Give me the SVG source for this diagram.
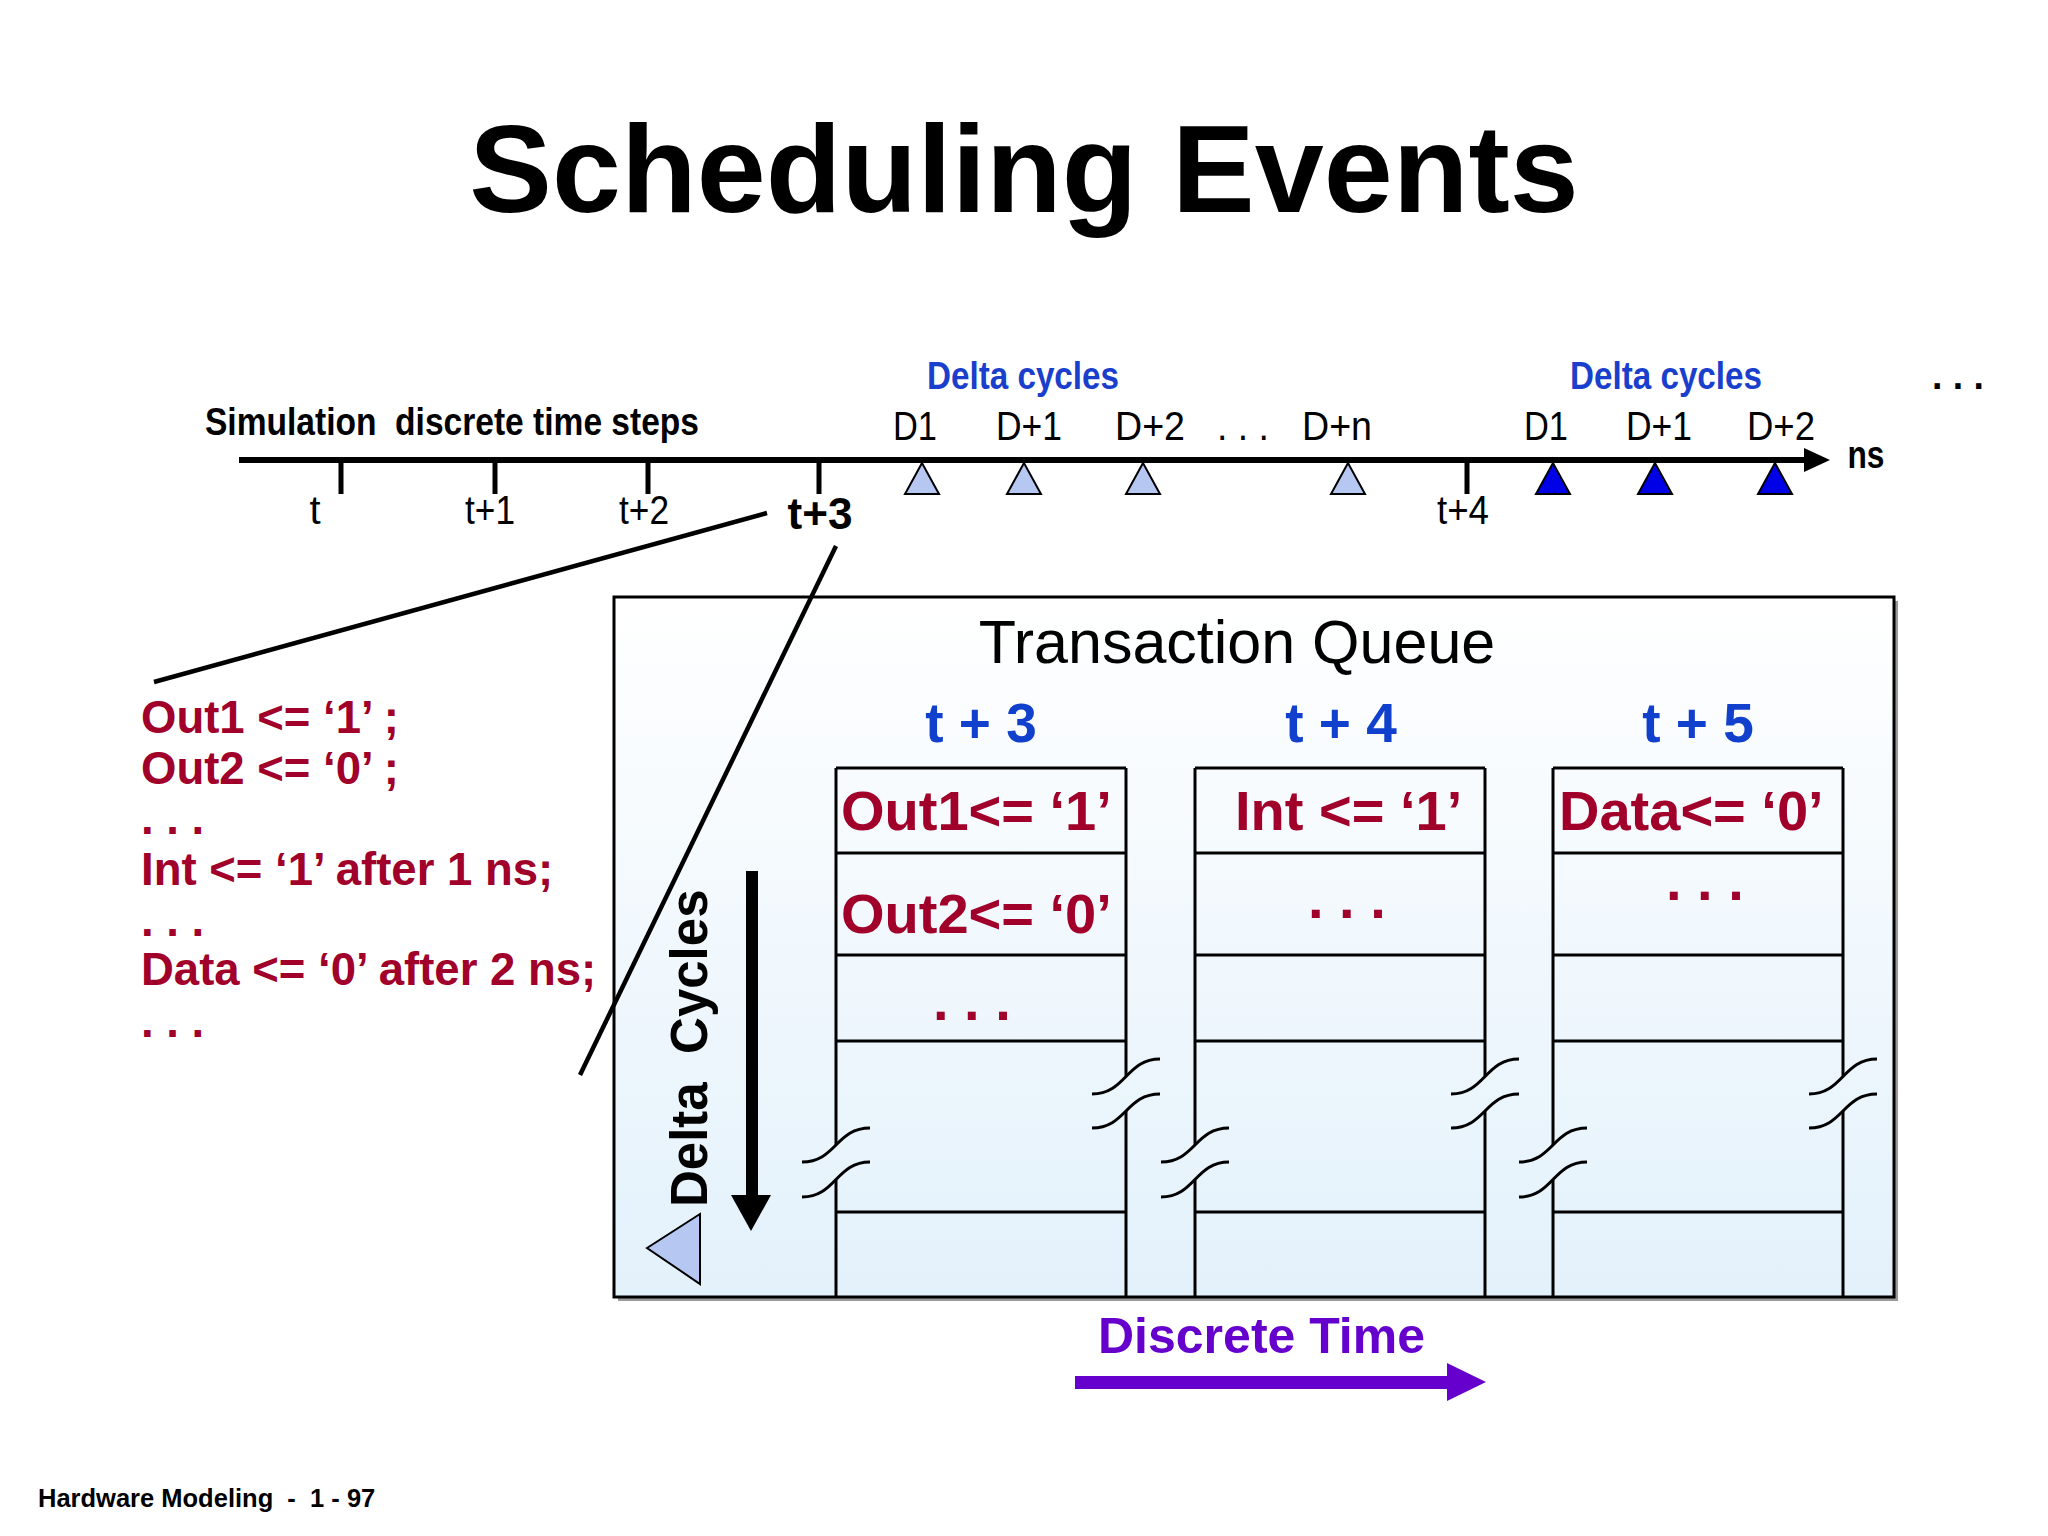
<svg xmlns="http://www.w3.org/2000/svg" width="2048" height="1536" viewBox="0 0 2048 1536">
<defs>
<linearGradient id="boxfill" x1="0" y1="0" x2="0" y2="1">
<stop offset="0" stop-color="#ffffff"/>
<stop offset="1" stop-color="#e3f1fb"/>
</linearGradient>
<style>
.title{font-family:"Liberation Sans",Arial,sans-serif;font-weight:bold;font-size:124px;fill:#000}
.nar{font-family:"Liberation Sans Narrow","Liberation Sans",Arial,sans-serif;font-size:40px;fill:#000}
.narb{font-family:"Liberation Sans Narrow","Liberation Sans",Arial,sans-serif;font-size:38px;font-weight:bold;fill:#000}
.blue{fill:#1a3fcc}
.code{font-family:"Liberation Sans",Arial,sans-serif;font-weight:bold;font-size:45.5px;fill:#a0002a}
.cell{font-family:"Liberation Sans",Arial,sans-serif;font-weight:bold;font-size:56px;fill:#a0002a}
.hdr{font-family:"Liberation Sans",Arial,sans-serif;font-weight:bold;font-size:55px;fill:#1040cc;text-anchor:middle}
.tq{font-family:"Liberation Sans",Arial,sans-serif;font-size:61px;fill:#000;text-anchor:middle}
.ln{stroke:#000;stroke-width:3;fill:none}
.tick{stroke:#000;stroke-width:5}
.tri1{fill:#b6c8f2;stroke:#000;stroke-width:2}
.tri2{fill:#0000e6;stroke:#000;stroke-width:2}
.lead{stroke:#000;stroke-width:4.5}
</style>
</defs>
<rect width="2048" height="1536" fill="#fff"/>

<text class="title" x="1024" y="212" text-anchor="middle">Scheduling Events</text>

<g id="timeline">
<line x1="239" y1="460" x2="1810" y2="460" stroke="#000" stroke-width="6"/>
<polygon points="1804,448 1830,460 1804,472" fill="#000"/>
<line class="tick" x1="341" y1="460" x2="341" y2="494"/>
<line class="tick" x1="495" y1="460" x2="495" y2="494"/>
<line class="tick" x1="648" y1="460" x2="648" y2="494"/>
<line class="tick" x1="819" y1="460" x2="819" y2="494"/>
<line class="tick" x1="1467" y1="460" x2="1467" y2="494"/>
<polygon class="tri1" points="922,463 905,494 939,494"/>
<polygon class="tri1" points="1024,463 1007,494 1041,494"/>
<polygon class="tri1" points="1143,463 1126,494 1160,494"/>
<polygon class="tri1" points="1348,463 1331,494 1365,494"/>
<polygon class="tri2" points="1553,463 1536,494 1570,494"/>
<polygon class="tri2" points="1655,463 1638,494 1672,494"/>
<polygon class="tri2" points="1775,463 1758,494 1792,494"/>
<text class="narb" x="205" y="435" textLength="494" lengthAdjust="spacingAndGlyphs" xml:space="preserve">Simulation  discrete time steps</text>
<text class="narb blue" x="927" y="389" textLength="192" lengthAdjust="spacingAndGlyphs">Delta cycles</text>
<text class="narb blue" x="1570" y="389" textLength="192" lengthAdjust="spacingAndGlyphs">Delta cycles</text>
<text class="narb" x="1932" y="389" textLength="52" lengthAdjust="spacingAndGlyphs">. . .</text>
<text class="nar" x="915" y="440" text-anchor="middle" textLength="44" lengthAdjust="spacingAndGlyphs">D1</text>
<text class="nar" x="1029" y="440" text-anchor="middle" textLength="66" lengthAdjust="spacingAndGlyphs">D+1</text>
<text class="nar" x="1150" y="440" text-anchor="middle" textLength="70" lengthAdjust="spacingAndGlyphs">D+2</text>
<text class="nar" x="1243" y="440" text-anchor="middle" textLength="52" lengthAdjust="spacingAndGlyphs">. . .</text>
<text class="nar" x="1337" y="440" text-anchor="middle" textLength="70" lengthAdjust="spacingAndGlyphs">D+n</text>
<text class="nar" x="1546" y="440" text-anchor="middle" textLength="44" lengthAdjust="spacingAndGlyphs">D1</text>
<text class="nar" x="1659" y="440" text-anchor="middle" textLength="66" lengthAdjust="spacingAndGlyphs">D+1</text>
<text class="nar" x="1781" y="440" text-anchor="middle" textLength="68" lengthAdjust="spacingAndGlyphs">D+2</text>
<text class="narb" x="1866" y="468" text-anchor="middle" textLength="37" lengthAdjust="spacingAndGlyphs">ns</text>
<text class="nar" x="315" y="524" text-anchor="middle">t</text>
<text class="nar" x="490" y="524" text-anchor="middle" textLength="50" lengthAdjust="spacingAndGlyphs">t+1</text>
<text class="nar" x="644" y="524" text-anchor="middle" textLength="50" lengthAdjust="spacingAndGlyphs">t+2</text>
<text class="narb" x="820" y="529" text-anchor="middle" style="font-size:44px" textLength="65" lengthAdjust="spacingAndGlyphs">t+3</text>
<text class="nar" x="1463" y="524" text-anchor="middle" textLength="52" lengthAdjust="spacingAndGlyphs">t+4</text>
</g>

<g id="code">
<text class="code" x="141" y="733">Out1 &lt;= ‘1’ ;</text>
<text class="code" x="141" y="784">Out2 &lt;= ‘0’ ;</text>
<text class="code" x="141" y="834">. . .</text>
<text class="code" x="141" y="885">Int &lt;= ‘1’ after 1 ns;</text>
<text class="code" x="141" y="936">. . .</text>
<text class="code" x="141" y="985">Data &lt;= ‘0’ after 2 ns;</text>
<text class="code" x="141" y="1037">. . .</text>
</g>

<g id="queue">
<rect x="618" y="601" width="1280" height="700" fill="#9a9a9a"/>
<rect x="614" y="597" width="1280" height="700" fill="url(#boxfill)" stroke="#000" stroke-width="3"/>
<text class="tq" x="1237" y="663">Transaction Queue</text>
<text class="hdr" x="981" y="742">t + 3</text>
<text class="hdr" x="1341" y="742">t + 4</text>
<text class="hdr" x="1698" y="742">t + 5</text>
</g>

<g id="col1">
<path class="ln" d="M836,768 H1126 M836,853 H1126 M836,955 H1126 M836,1041 H1126 M836,1212 H1126"/>
<path class="ln" d="M836,768 V1145 M836,1180 V1297 M1126,768 V1076 M1126,1111 V1297"/>
<path class="ln" d="M802,1162 C836,1162 836,1128 870,1128 M802,1197 C836,1197 836,1162 870,1162"/>
<path class="ln" d="M1092,1094 C1126,1094 1126,1059 1160,1059 M1092,1128 C1126,1128 1126,1094 1160,1094"/>
<text class="cell" x="841" y="830">Out1&lt;= ‘1’</text>
<text class="cell" x="841" y="933">Out2&lt;= ‘0’</text>
<text class="cell" x="933" y="1020">. . .</text>
</g>

<g id="col2">
<path class="ln" d="M1195,768 H1485 M1195,853 H1485 M1195,955 H1485 M1195,1041 H1485 M1195,1212 H1485"/>
<path class="ln" d="M1195,768 V1145 M1195,1180 V1297 M1485,768 V1076 M1485,1111 V1297"/>
<path class="ln" d="M1161,1162 C1195,1162 1195,1128 1229,1128 M1161,1197 C1195,1197 1195,1162 1229,1162"/>
<path class="ln" d="M1451,1094 C1485,1094 1485,1059 1519,1059 M1451,1128 C1485,1128 1485,1094 1519,1094"/>
<text class="cell" x="1235" y="830">Int &lt;= ‘1’</text>
<text class="cell" x="1308" y="918">. . .</text>
</g>

<g id="col3">
<path class="ln" d="M1553,768 H1843 M1553,853 H1843 M1553,955 H1843 M1553,1041 H1843 M1553,1212 H1843"/>
<path class="ln" d="M1553,768 V1145 M1553,1180 V1297 M1843,768 V1076 M1843,1111 V1297"/>
<path class="ln" d="M1519,1162 C1553,1162 1553,1128 1587,1128 M1519,1197 C1553,1197 1553,1162 1587,1162"/>
<path class="ln" d="M1809,1094 C1843,1094 1843,1059 1877,1059 M1809,1128 C1843,1128 1843,1094 1877,1094"/>
<text class="cell" x="1559" y="830">Data&lt;= ‘0’</text>
<text class="cell" x="1666" y="900">. . .</text>
</g>

<g id="delta-axis">
<text x="707" y="1207" transform="rotate(-90 707 1207)" xml:space="preserve" style="font-family:'Liberation Sans',Arial,sans-serif;font-weight:bold;font-size:51px;fill:#000">Delta  Cycles</text>
<rect x="746" y="871" width="12" height="326" fill="#000"/>
<polygon points="731,1195 771,1195 751,1231" fill="#000"/>
<polygon class="tri1" points="647,1248 700,1214 700,1284"/>
</g>

<g id="connectors">
<line class="lead" x1="767" y1="513" x2="154" y2="682"/>
<line class="lead" x1="836" y1="546" x2="580" y2="1075"/>
</g>

<g id="discrete-time">
<text x="1098" y="1353" style="font-family:'Liberation Sans',Arial,sans-serif;font-weight:bold;font-size:50px;fill:#6600cc">Discrete Time</text>
<rect x="1075" y="1376" width="374" height="13" fill="#6600cc"/>
<polygon points="1447,1363 1486,1382 1447,1401" fill="#6600cc"/>
</g>

<text x="38" y="1507" xml:space="preserve" style="font-family:'Liberation Sans',Arial,sans-serif;font-weight:bold;font-size:25.5px;fill:#000">Hardware Modeling  -  1 - 97</text>
</svg>
